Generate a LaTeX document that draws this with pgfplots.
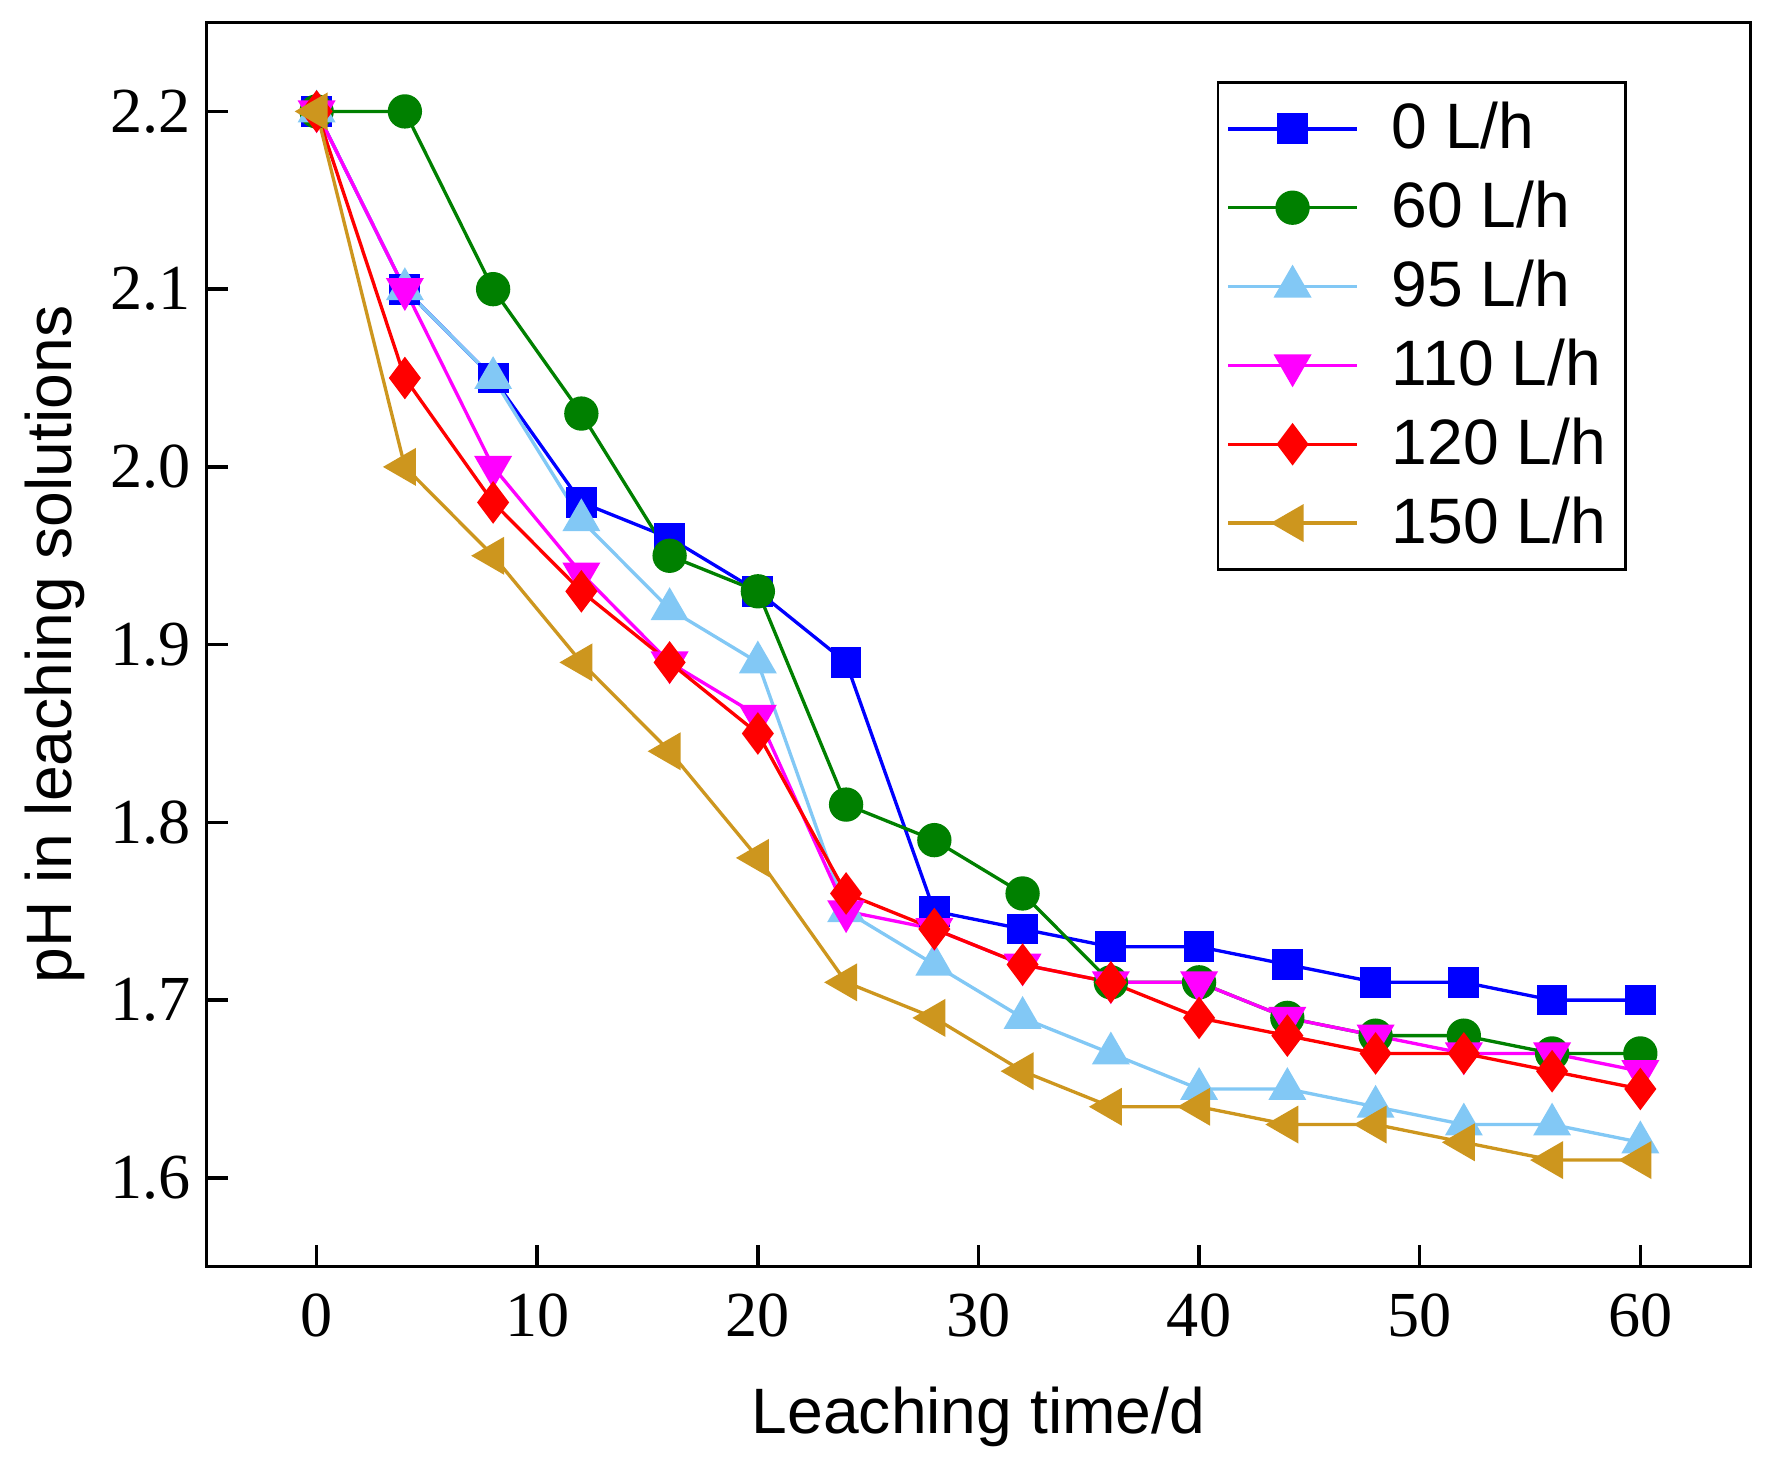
\documentclass[border=0pt]{standalone}
\usepackage{fontspec}
\setmainfont{Liberation Serif}
\setsansfont{Liberation Sans}
\usepackage{pgfplots}
\pgfplotsset{compat=1.18}
\definecolor{cBlue}{RGB}{0,0,255}
\definecolor{cGreen}{RGB}{0,128,0}
\definecolor{cCyan}{RGB}{130,200,245}
\definecolor{cMag}{RGB}{255,0,255}
\definecolor{cRed}{RGB}{255,0,0}
\definecolor{cGold}{RGB}{205,150,30}
\begin{document}
\begin{tikzpicture}
\begin{axis}[
  scale only axis,
  width=348.8pt, height=281pt,
  xmin=-5, xmax=65, ymin=1.55, ymax=2.25,
  xtick={0,10,...,60},
  ytick={1.6,1.7,...,2.2},
  yticklabel style={/pgf/number format/.cd,fixed,fixed zerofill,precision=1},
  /pgf/number format/assume math mode=true,
  tick align=inside, xtick pos=bottom, ytick pos=left,
  major tick length=5pt,
  axis line style={line width=0.8pt},
  tick style={line width=0.8pt, black},
  tick label style={font=\fontsize{14.5}{16}\selectfont},
  xticklabel style={yshift=-2.5pt},
  xlabel={Leaching time/d},
  ylabel={pH in leaching solutions},
  label style={font=\sffamily\fontsize{14.5}{16}\selectfont},
  xlabel style={yshift=-4.5pt},
  ylabel style={yshift=-1pt},
  legend style={at={(0.920,0.953)}, anchor=north east, draw=black, line width=0.6pt,
    font=\sffamily\fontsize{14.5}{16}\selectfont, row sep=0.8pt,
    inner sep=2pt,
    nodes={inner sep=2.5pt}},
  legend cell align=left,
  legend image code/.code={
    \draw[mark repeat=2,mark phase=2,#1] plot coordinates {(1pt,0pt) (15.5pt,0pt) (30pt,0pt)};
    \path (35pt,0pt);
  },
  every axis plot/.append style={line width=0.75pt},
]
\addplot[cBlue, mark=square*, mark size=3.1pt, mark options={solid,fill=cBlue}] coordinates {
(0,2.20)(4,2.10)(8,2.05)(12,1.98)(16,1.96)(20,1.93)(24,1.89)(28,1.75)(32,1.74)(36,1.73)(40,1.73)(44,1.72)(48,1.71)(52,1.71)(56,1.70)(60,1.70)};
\addlegendentry{0 L/h}
\addplot[cGreen, mark=*, mark size=3.5pt, mark options={solid,fill=cGreen}] coordinates {
(0,2.20)(4,2.20)(8,2.10)(12,2.03)(16,1.95)(20,1.93)(24,1.81)(28,1.79)(32,1.76)(36,1.71)(40,1.71)(44,1.69)(48,1.68)(52,1.68)(56,1.67)(60,1.67)};
\addlegendentry{60 L/h}
\addplot[cCyan, mark=triangle*, mark size=4.2pt, mark options={solid,fill=cCyan}] coordinates {
(0,2.20)(4,2.10)(8,2.05)(12,1.97)(16,1.92)(20,1.89)(24,1.75)(28,1.72)(32,1.69)(36,1.67)(40,1.65)(44,1.65)(48,1.64)(52,1.63)(56,1.63)(60,1.62)};
\addlegendentry{95 L/h}
\addplot[cMag, mark=triangle*, mark size=4.2pt, mark options={solid,fill=cMag,rotate=180}] coordinates {
(0,2.20)(4,2.10)(8,2.00)(12,1.94)(16,1.89)(20,1.86)(24,1.75)(28,1.74)(32,1.72)(36,1.71)(40,1.71)(44,1.69)(48,1.68)(52,1.67)(56,1.67)(60,1.66)};
\addlegendentry{110 L/h}
\addplot[cRed, mark=diamond*, mark size=4.2pt, mark options={solid,fill=cRed}] coordinates {
(0,2.20)(4,2.05)(8,1.98)(12,1.93)(16,1.89)(20,1.85)(24,1.76)(28,1.74)(32,1.72)(36,1.71)(40,1.69)(44,1.68)(48,1.67)(52,1.67)(56,1.66)(60,1.65)};
\addlegendentry{120 L/h}
\addplot[cGold, mark=triangle*, mark size=4.2pt, mark options={solid,fill=cGold,rotate=90}] coordinates {
(0,2.20)(4,2.00)(8,1.95)(12,1.89)(16,1.84)(20,1.78)(24,1.71)(28,1.69)(32,1.66)(36,1.64)(40,1.64)(44,1.63)(48,1.63)(52,1.62)(56,1.61)(60,1.61)};
\addlegendentry{150 L/h}
\end{axis}
\pgfresetboundingbox
\path ([xshift=-46.6pt,yshift=-45pt]current axis.south west) rectangle ([xshift=4.6pt,yshift=5.1pt]current axis.north east);
\end{tikzpicture}
\end{document}
